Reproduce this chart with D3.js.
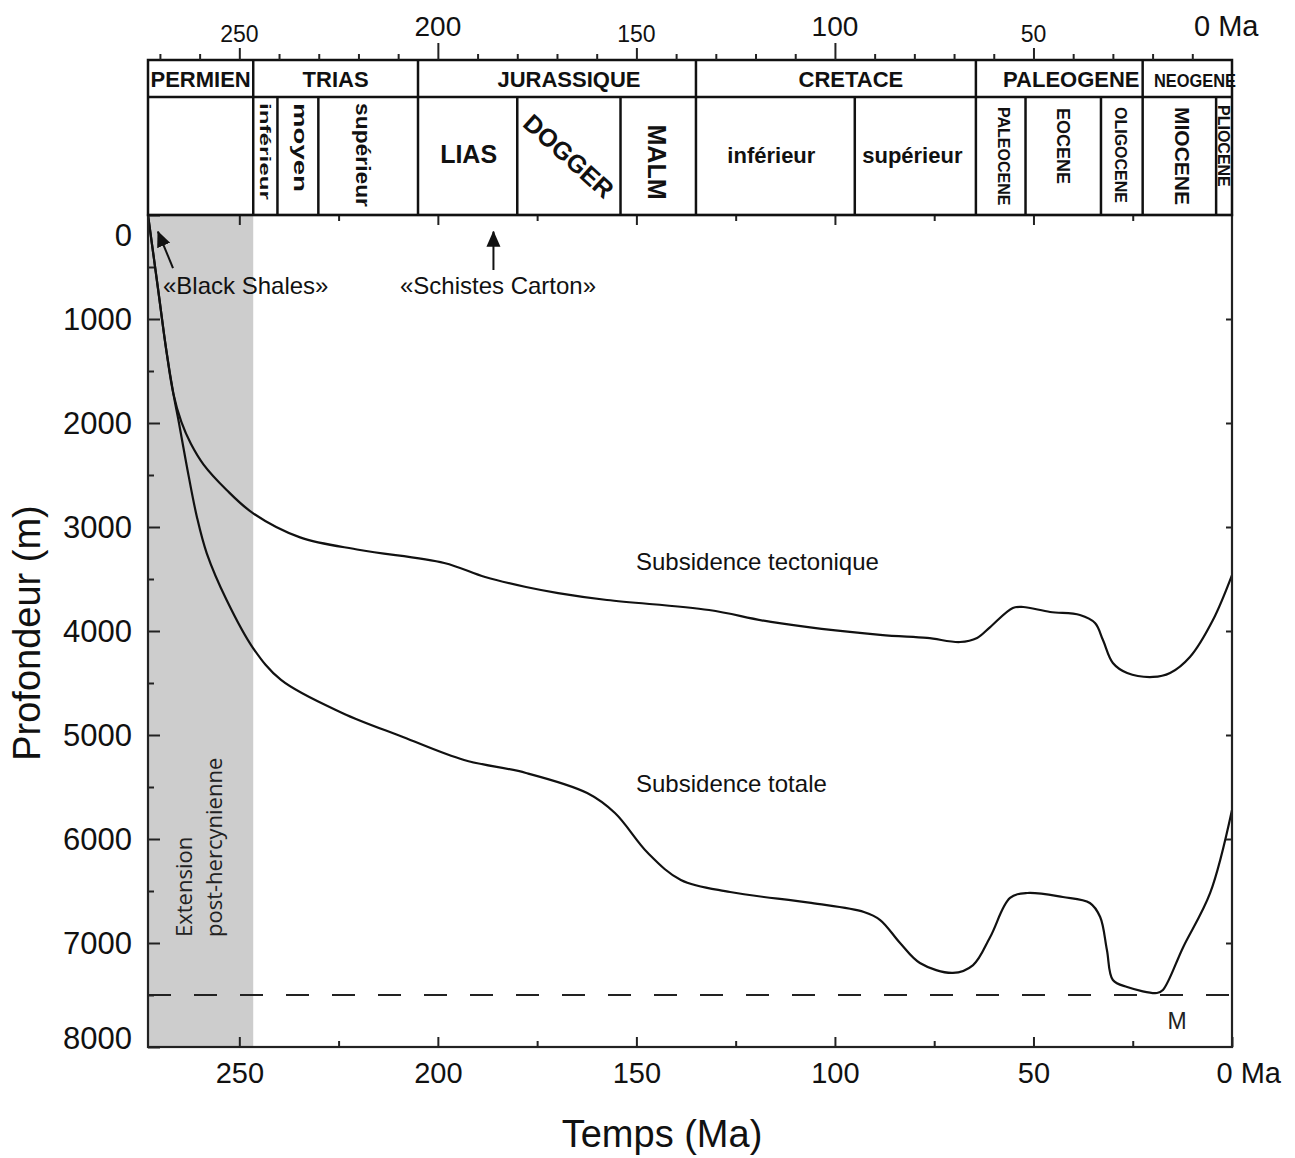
<!DOCTYPE html>
<html>
<head>
<meta charset="utf-8">
<script src="https://cdn.jsdelivr.net/npm/d3@7"></script>
<style>
  body { margin: 0; background: #fff; }
  svg { font-family: "Liberation Sans", Arial, Helvetica, sans-serif; }
  .axis path.domain { display: none; }
  .axis line { stroke: #222; stroke-width: 2; }
</style>
</head>
<body>
<div id="chart"></div>
<script>

// subsidence curves: age (Ma) and depth (m)
const ageTect = [273, 270.5, 268.4, 266.6, 264.6, 262.2, 259.0, 253.2, 246.5, 234.7, 219.6, 198.4, 188.1, 177.8, 169.7, 157.4, 131.7, 116.1, 88.6, 76.8, 68.5, 64.2, 60.9, 55.2, 52.6, 45.8, 38.3, 34.5, 32.5, 30.0, 26.4, 19.9, 15.6, 10.6, 4.8, 0];
const depthTect = [0, 702, 1298, 1720, 1990, 2200, 2400, 2644, 2869, 3100, 3221, 3346, 3481, 3577, 3635, 3702, 3798, 3913, 4038, 4067, 4106, 4067, 3962, 3779, 3769, 3817, 3846, 3923, 4087, 4308, 4404, 4442, 4404, 4250, 3894, 3462];

const ageTot = [273, 270.5, 268.4, 266.6, 265.2, 263.2, 260.7, 258.2, 253.2, 246.5, 239.5, 224.1, 208.8, 193.4, 177.8, 162.4, 155.4, 147.1, 138.8, 126.4, 106.0, 92.7, 88.6, 83.6, 78.6, 70.3, 65.2, 60.9, 55.9, 51.6, 42.6, 35.8, 33.2, 31.5, 30.0, 26.4, 18.9, 17.4, 12.3, 5.5, 0];
const depthTot = [0, 702, 1298, 1720, 2000, 2420, 2901, 3253, 3702, 4166, 4471, 4788, 5019, 5240, 5365, 5558, 5750, 6135, 6394, 6510, 6615, 6702, 6779, 7000, 7192, 7288, 7212, 6942, 6567, 6519, 6558, 6615, 6750, 7067, 7356, 7423, 7481, 7452, 7040, 6519, 5721];

// stratigraphic scale
const periodNames = ["PERMIEN", "TRIAS", "JURASSIQUE", "CRETACE", "PALEOGENE", "NEOGENE"];
const periodBounds = [273, 246.5, 205, 135, 64.5, 22.5, 0];
const epochNames = ["", "inférieur", "moyen", "supérieur", "LIAS", "DOGGER", "MALM", "inférieur", "supérieur", "PALEOCENE", "EOCENE", "OLIGOCENE", "MIOCENE", "PLIOCENE"];
const epochBounds = [273, 246.5, 240.4, 230.1, 205, 180, 154, 135, 95, 64.5, 52, 33, 22.5, 4, 0];

// axes
const depthTicks = [0, 1000, 2000, 3000, 4000, 5000, 6000, 7000, 8000];
const depthMinor = [500, 1500, 2500, 3500, 4500, 5500, 6500, 7500];
const ageTicks = [250, 200, 150, 100, 50, 0];
const ageMinor = [225, 175, 125, 75, 25];
const topTicks = d3.range(270, 0, -10);

// annotations
const extensionStart = 273, extensionEnd = 246.5;
const levelM = 7500;
const blackShales = {age: [266.7, 270.5], depth: [510, 160]};
const schistesCarton = {age: [186, 186], depth: [529, 160]};

var width = 1295, height = 1158;
var margin = {top: 215, right: 63, bottom: 111, left: 148};

var x = d3.scaleLinear().domain([273, 0]).range([margin.left, width - margin.right]);
var y = d3.scaleLinear().domain([0, 8000]).range([margin.top, height - margin.bottom]);

var svg = d3.select("#chart").append("svg")
    .attr("width", width)
    .attr("height", height);

svg.append("rect").attr("width", width).attr("height", height).attr("fill", "#fff");

var defs = svg.append("defs");
defs.append("marker")
    .attr("id", "head")
    .attr("markerUnits", "userSpaceOnUse")
    .attr("viewBox", "0 0 16 16")
    .attr("markerWidth", 16).attr("markerHeight", 16)
    .attr("refX", 15).attr("refY", 8)
    .attr("orient", "auto")
  .append("path")
    .attr("d", "M0,1 L16,8 L0,15 Z")
    .attr("fill", "#111");

var x0 = x.range()[0], x1 = x.range()[1];
var y0 = y.range()[0], y1 = y.range()[1];

// grey band
svg.append("rect")
    .attr("x", x(extensionStart))
    .attr("y", y0)
    .attr("width", x(extensionEnd) - x(extensionStart))
    .attr("height", y1 - y0)
    .attr("fill", "#cdcdcd");

svg.append("text")
    .attr("transform", "translate(192," + 937 + ") rotate(-90)")
    .style("font-family", "'Open Sans', sans-serif")
    .style("font-size", "22px")
    .attr("fill", "#222")
    .text("Extension");
svg.append("text")
    .attr("transform", "translate(222," + 937 + ") rotate(-90)")
    .style("font-family", "'Open Sans', sans-serif")
    .style("font-size", "22px")
    .attr("fill", "#222")
    .text("post-hercynienne");

// curves
var line = d3.line()
    .x(function(d) { return x(d[0]); })
    .y(function(d) { return y(d[1]); })
    .curve(d3.curveCatmullRom.alpha(0.5));

svg.append("path")
    .datum(d3.zip(ageTect, depthTect))
    .attr("d", line)
    .attr("fill", "none")
    .attr("stroke", "#111")
    .attr("stroke-width", 2.2);

svg.append("path")
    .datum(d3.zip(ageTot, depthTot))
    .attr("d", line)
    .attr("fill", "none")
    .attr("stroke", "#111")
    .attr("stroke-width", 2.2);

// dashed level
svg.append("line")
    .attr("x1", x0).attr("x2", x1)
    .attr("y1", y(levelM)).attr("y2", y(levelM))
    .attr("stroke", "#222")
    .attr("stroke-width", 2)
    .attr("stroke-dasharray", "23,23");

svg.append("text")
    .attr("x", 1177).attr("y", 1029)
    .attr("text-anchor", "middle")
    .style("font-size", "23px")
    .attr("fill", "#222")
    .text("M");

// frame
svg.append("rect")
    .attr("x", x0).attr("y", y0)
    .attr("width", x1 - x0).attr("height", y1 - y0)
    .attr("fill", "none")
    .attr("stroke", "#222")
    .attr("stroke-width", 2.2);

// left axis
var yAxis = svg.append("g")
    .attr("class", "axis")
    .attr("transform", "translate(" + x0 + ",0)")
    .call(d3.axisLeft(y).tickValues(depthTicks).tickSize(-12).tickPadding(16).tickFormat(d3.format("d")));
yAxis.selectAll("text")
    .style("font-size", "31px")
    .attr("fill", "#111")
    .attr("dy", "0.35em")
    .attr("transform", function(d) { return d === 0 ? "translate(0,20)" : d === 8000 ? "translate(0,-9)" : null; });

svg.append("g")
    .attr("class", "axis")
    .attr("transform", "translate(" + x0 + ",0)")
    .call(d3.axisLeft(y).tickValues(depthMinor).tickSize(-6).tickFormat(""));

// right axis
svg.append("g")
    .attr("class", "axis")
    .attr("transform", "translate(" + x1 + ",0)")
    .call(d3.axisRight(y).tickValues(depthTicks.slice(1, -1)).tickSize(-6).tickFormat(""));

// bottom axis
var xAxis = svg.append("g")
    .attr("class", "axis")
    .attr("transform", "translate(0," + y1 + ")")
    .call(d3.axisBottom(x).tickValues(ageTicks).tickSizeInner(-10).tickSizeOuter(0).tickPadding(15)
        .tickFormat(function(d) { return d === 0 ? "0 Ma" : d; }));
xAxis.selectAll("text")
    .style("font-size", "29px")
    .attr("fill", "#111");
xAxis.selectAll(".tick").filter(function(d) { return d === 0; }).select("text")
    .attr("text-anchor", "start")
    .attr("x", -16);

svg.append("g")
    .attr("class", "axis")
    .attr("transform", "translate(0," + y1 + ")")
    .call(d3.axisBottom(x).tickValues(ageMinor).tickSize(-6).tickFormat(""));

// ticks under the stratigraphic scale
svg.append("g")
    .attr("class", "axis")
    .attr("transform", "translate(0," + y0 + ")")
    .call(d3.axisBottom(x).tickValues(ageTicks.slice(0, -1)).tickSize(10).tickFormat(""));
svg.append("g")
    .attr("class", "axis")
    .attr("transform", "translate(0," + y0 + ")")
    .call(d3.axisBottom(x).tickValues(ageMinor).tickSize(6).tickFormat(""));

svg.append("text")
    .attr("transform", "translate(40," + 633 + ") rotate(-90)")
    .attr("text-anchor", "middle")
    .style("font-size", "38px")
    .attr("fill", "#111")
    .text("Profondeur (m)");

svg.append("text")
    .attr("x", 662).attr("y", 1147)
    .attr("text-anchor", "middle")
    .style("font-size", "38px")
    .attr("fill", "#111")
    .text("Temps (Ma)");

// annotations
function arrow(a) {
  svg.append("line")
      .attr("x1", x(a.age[0])).attr("y1", y(a.depth[0]))
      .attr("x2", x(a.age[1])).attr("y2", y(a.depth[1]))
      .attr("stroke", "#111")
      .attr("stroke-width", 2)
      .attr("marker-end", "url(#head)");
}
arrow(blackShales);
arrow(schistesCarton);

svg.append("text")
    .attr("x", 163).attr("y", 294)
    .style("font-size", "24px")
    .attr("fill", "#111")
    .text("«Black Shales»");
svg.append("text")
    .attr("x", 498).attr("y", 294)
    .attr("text-anchor", "middle")
    .style("font-size", "24px")
    .attr("fill", "#111")
    .text("«Schistes Carton»");

svg.append("text")
    .attr("x", 636).attr("y", 570)
    .style("font-size", "24px")
    .attr("fill", "#111")
    .text("Subsidence tectonique");
svg.append("text")
    .attr("x", 636).attr("y", 792)
    .style("font-size", "24px")
    .attr("fill", "#111")
    .text("Subsidence totale");

// stratigraphic scale header
var hTop = 60, hMid = 97;
var header = svg.append("g");

header.append("rect")
    .attr("x", x0).attr("y", hTop)
    .attr("width", x1 - x0).attr("height", y0 - hTop)
    .attr("fill", "none")
    .attr("stroke", "#111")
    .attr("stroke-width", 2.5);
header.append("line")
    .attr("x1", x0).attr("x2", x1)
    .attr("y1", hMid).attr("y2", hMid)
    .attr("stroke", "#111").attr("stroke-width", 2.5);

header.selectAll(".pb")
    .data(periodBounds.slice(1, -1))
    .enter().append("line")
    .attr("x1", function(d) { return x(d); }).attr("x2", function(d) { return x(d); })
    .attr("y1", hTop).attr("y2", hMid)
    .attr("stroke", "#111").attr("stroke-width", 2.5);

header.selectAll(".eb")
    .data(epochBounds.slice(1, -1))
    .enter().append("line")
    .attr("x1", function(d) { return x(d); }).attr("x2", function(d) { return x(d); })
    .attr("y1", hMid).attr("y2", y0)
    .attr("stroke", "#111").attr("stroke-width", 2.5);

// period label placement
var periodStyle = [
  {dx: 0, size: 22},
  {dx: 0, size: 22},
  {dx: 12, size: 22},
  {dx: 15, size: 22},
  {dx: 12, size: 22},
  {start: 1154, size: 19, len: 82}
];

header.selectAll(".pl")
    .data(periodNames)
    .enter().append("text")
    .attr("x", function(d, i) {
      var s = periodStyle[i];
      return s.start ? s.start : (x(periodBounds[i]) + x(periodBounds[i + 1])) / 2 + s.dx;
    })
    .attr("y", 87)
    .attr("text-anchor", function(d, i) { return periodStyle[i].start ? "start" : "middle"; })
    .attr("textLength", function(d, i) { return periodStyle[i].len || null; })
    .attr("lengthAdjust", "spacingAndGlyphs")
    .style("font-size", function(d, i) { return periodStyle[i].size + "px"; })
    .style("font-weight", "bold")
    .attr("fill", "#111")
    .text(function(d) { return d; });

// epoch label placement
var epochStyle = [
  null,
  {rot: 90, size: 15, top: 103, len: 97, dx: 0},
  {rot: 90, size: 19, top: 103, len: 89, dx: 3},
  {rot: 90, size: 20, top: 103, len: 104, dx: -5},
  {rot: 0, size: 25, base: 163, dx: 1},
  {rot: 42, size: 25, mid: 156, dx: 0},
  {rot: 90, size: 25, mid: 162, dx: -1},
  {rot: 0, size: 22, base: 163, dx: -4},
  {rot: 0, size: 22, base: 163, dx: -3},
  {rot: 90, size: 16, top: 107, dx: 3},
  {rot: 90, size: 18, top: 108, dx: 0},
  {rot: 90, size: 16, top: 107, dx: -1},
  {rot: 90, size: 21, top: 107, dx: 3},
  {rot: 90, size: 16, top: 105, dx: 0}
];

epochNames.forEach(function(name, i) {
  var s = epochStyle[i];
  if (!s) return;
  var cx = (x(epochBounds[i]) + x(epochBounds[i + 1])) / 2 + s.dx;
  var t = header.append("text")
      .style("font-size", s.size + "px")
      .style("font-weight", "bold")
      .attr("fill", "#111")
      .text(name);
  if (s.rot === 0) {
    t.attr("x", cx).attr("y", s.base).attr("text-anchor", "middle");
  } else if (s.top) {
    t.attr("transform", "translate(" + cx + "," + s.top + ") rotate(" + s.rot + ")")
        .attr("dy", "0.36em");
    if (s.len) t.attr("textLength", s.len).attr("lengthAdjust", "spacingAndGlyphs");
  } else {
    t.attr("transform", "translate(" + cx + "," + s.mid + ") rotate(" + s.rot + ")")
        .attr("text-anchor", "middle")
        .attr("dy", "0.36em");
  }
});

// age scale above the header
svg.append("g")
    .attr("class", "axis")
    .attr("transform", "translate(0," + hTop + ")")
    .call(d3.axisTop(x).tickValues(topTicks.filter(function(d) { return d % 50 !== 0; })).tickSize(6).tickFormat(""));
svg.append("g")
    .attr("class", "axis")
    .attr("transform", "translate(0," + hTop + ")")
    .call(d3.axisTop(x).tickValues([250, 150, 50]).tickSize(12).tickFormat(""));
svg.append("g")
    .attr("class", "axis")
    .attr("transform", "translate(0," + hTop + ")")
    .call(d3.axisTop(x).tickValues([200, 100]).tickSize(17).tickFormat(""));

svg.selectAll(".toplab")
    .data(ageTicks)
    .enter().append("text")
    .attr("x", function(d) { return d === 0 ? 1194 : x(d); })
    .attr("y", function(d) { return d % 100 === 0 ? 36 : 42; })
    .attr("text-anchor", function(d) { return d === 0 ? "start" : "middle"; })
    .style("font-size", function(d) { return d === 0 ? "29px" : d % 100 === 0 ? "28px" : "23px"; })
    .attr("fill", "#111")
    .text(function(d) { return d === 0 ? "0 Ma" : d; });

</script>
</body>
</html>
